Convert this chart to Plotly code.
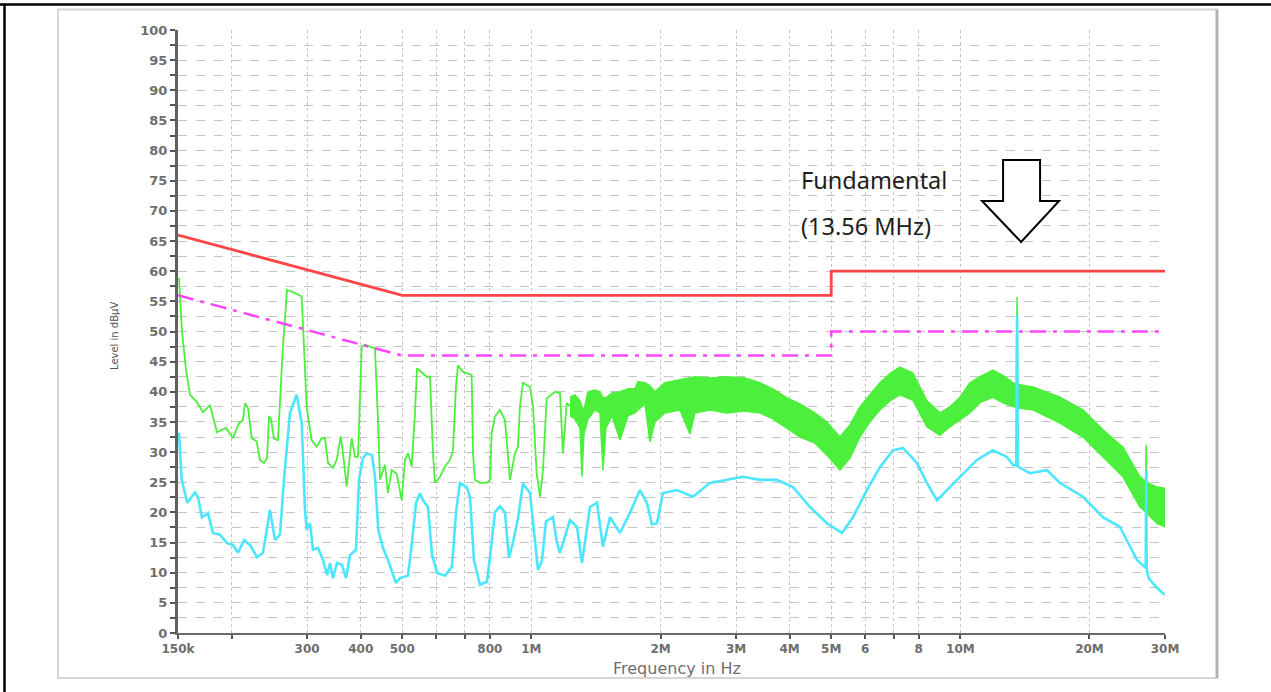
import numpy as np
import plotly.graph_objects as go

# ---------------- data (frequency in kHz, level in dBuV) ----------------
GREEN_F_KHZ = [150.8, 153.2, 156.6, 160.0, 166.1, 171.5, 178.1, 184.9, 194.1, 201.5,
               208.1, 212.6, 214.9, 218.4, 222.8, 228.8, 232.9, 238.0, 241.9, 244.5,
               247.1, 251.1, 256.6, 263.1, 269.3, 276.6, 291.4, 296.6, 299.3, 307.4,
               315.8, 324.4, 330.2, 335.6, 344.7, 351.6, 359.2, 363.7, 371.0, 381.1,
               387.9, 394.2, 402.1, 409.3, 431.8, 438.9, 443.6, 455.6, 463.0, 472.3,
               485.2, 498.4, 507.3, 515.5, 525.9, 535.3, 541.1, 570.0, 580.2, 589.6,
               595.9, 612.1, 628.8, 645.9, 656.4, 667.0, 674.2, 692.6, 725.7, 730.8,
               738.6, 758.7, 786.5, 800.6, 807.9, 822.3, 844.7, 867.7, 881.8, 891.3,
               915.5, 930.4, 940.4, 955.7, 992.3, 1008.4, 1028.6, 1047.0, 1064.0, 1085.4,
               1134.8, 1165.7, 1184.6, 1208.4, 1230.0]
GREEN_DB = [58.9, 50.2, 43.6, 39.5, 38.3, 36.6, 37.8, 33.3, 34.0, 32.3,
            34.8, 35.3, 38.1, 37.3, 32.3, 31.8, 28.7, 28.2, 29.0, 36.0,
            35.5, 32.2, 32.0, 46.9, 56.9, 56.6, 55.8, 43.6, 37.4, 32.0,
            30.9, 32.3, 32.3, 28.2, 27.4, 28.7, 32.6, 29.8, 24.3, 32.3,
            29.2, 29.2, 47.5, 47.8, 47.2, 35.3, 25.4, 27.9, 23.2, 27.0,
            26.4, 22.0, 28.7, 29.8, 27.6, 36.5, 43.9, 42.5, 42.5, 29.8,
            24.9, 25.9, 27.6, 28.7, 30.3, 40.9, 44.4, 43.3, 42.8, 29.8,
            25.4, 24.9, 24.9, 25.4, 33.2, 35.9, 37.0, 35.3, 29.8, 25.4,
            29.8, 30.9, 37.6, 41.5, 40.8, 37.6, 26.5, 22.6, 27.0, 38.9,
            40.0, 39.8, 29.8, 38.1, 37.6]

# dense (noisy) part of the green trace: upper / lower envelope
BAND_F_KHZ = [1230.0, 1263.4, 1297.8, 1311.8, 1326.0, 1354.7, 1406.6, 1444.9, 1468.3, 1492.2,
              1541.0, 1608.6, 1679.2, 1743.5, 1771.8, 1839.6, 1889.7, 1941.1, 2048.1, 2219.9,
              2342.2, 2405.9, 2607.6, 2856.8, 3146.6, 3410.4, 3656.9, 3942.2, 4227.1, 4581.4,
              4886.3, 5239.5, 5528.4, 5833.2, 6155.0, 6494.4, 6852.5, 7230.3, 7752.9, 8358.0,
              8961.8, 9456.0, 9977.4, 10527, 11108, 11911, 12703, 13260, 13500, 13560,
              13620, 14763, 17069, 19311, 21500, 23934, 26222, 27050, 27120, 27190,
              28727, 30000]
BAND_HI = [39.1, 39.5, 38.5, 37.5, 37.0, 40.0, 40.3, 40.0, 39.0, 39.0,
           39.8, 40.0, 40.5, 40.5, 41.7, 41.5, 41.0, 40.0, 41.5, 42.0,
           42.3, 42.5, 42.3, 42.5, 42.3, 41.5, 40.5, 39.0, 38.0, 36.5,
           35.0, 32.5, 34.5, 37.5, 39.5, 41.5, 43.0, 44.1, 43.1, 38.5,
           36.5, 37.5, 39.1, 41.5, 42.5, 43.6, 42.5, 41.5, 41.3, 55.7,
           41.2, 40.8, 39.1, 37.0, 33.7, 30.8, 25.9, 25.2, 31.2, 25.0,
           24.2, 24.0]
BAND_LO = [36.0, 35.5, 34.0, 25.9, 33.0, 35.5, 37.0, 36.5, 27.0, 34.0,
           36.0, 32.0, 36.0, 36.5, 37.0, 38.0, 31.7, 35.0, 36.5, 37.0,
           33.0, 36.5, 37.0, 36.5, 36.8, 36.5, 35.5, 34.0, 32.5, 31.5,
           29.5, 27.0, 29.0, 32.5, 35.0, 37.0, 38.5, 39.5, 38.6, 34.2,
           32.8, 34.2, 35.3, 36.5, 38.2, 39.1, 38.0, 37.5, 37.4, 37.3,
           37.3, 37.0, 34.8, 32.5, 29.2, 25.9, 20.9, 20.2, 20.0, 19.9,
           18.2, 17.6]

CYAN_F_KHZ = [150.8, 153.0, 157.7, 164.3, 167.0, 170.6, 176.2, 181.0, 187.9, 195.1,
              201.5, 207.0, 213.8, 220.8, 229.2, 236.7, 245.8, 252.5, 259.3, 265.0,
              273.6, 283.7, 291.4, 296.6, 299.3, 304.6, 309.6, 318.0, 326.7, 333.8,
              339.2, 344.7, 352.2, 361.7, 369.6, 377.6, 390.0, 396.3, 404.9, 413.0,
              424.9, 431.8, 439.6, 450.8, 463.0, 475.6, 483.4, 493.8, 515.5, 526.7,
              538.2, 549.8, 558.8, 573.9, 586.4, 602.4, 628.8, 652.9, 667.0, 681.5,
              706.5, 719.1, 734.7, 758.7, 787.8, 804.9, 822.3, 844.7, 867.7, 886.5,
              905.8, 930.4, 955.7, 992.3, 1013.8, 1035.8, 1058.3, 1081.3, 1122.7, 1147.1,
              1165.7, 1230.0, 1277.1, 1311.8, 1369.4, 1421.9, 1468.3, 1524.5, 1608.6, 1697.3,
              1790.9, 1859.5, 1910.1, 1962.1, 2026.3, 2184.4, 2380.2, 2607.6, 2856.8, 3113.0,
              3410.4, 3736.2, 4071.3, 4460.3, 4886.3, 5296.1, 5618.1, 6056.1, 6494.4, 6963.8,
              7347.6, 7921.1, 8358.0, 8818.7, 9305.0, 9977.4, 10930, 11911, 12840, 13260,
              13500, 13560, 13620, 14529, 15917, 17069, 19311, 21500, 23552, 25803,
              27050, 27120, 27190, 27519, 28727, 30000]
CYAN_DB = [33.2, 25.4, 21.6, 23.3, 22.5, 19.2, 19.9, 16.6, 16.3, 14.9,
           14.6, 13.3, 15.4, 14.6, 12.6, 13.3, 20.4, 15.4, 16.3, 25.4,
           36.5, 39.5, 34.8, 20.4, 17.1, 18.2, 13.8, 14.1, 12.1, 9.6,
           11.6, 9.1, 11.6, 11.3, 9.1, 12.9, 13.8, 25.4, 29.0, 29.8,
           29.5, 26.0, 17.1, 14.1, 12.1, 9.6, 8.3, 9.1, 9.5, 15.0,
           21.5, 23.2, 22.0, 20.9, 13.0, 10.0, 9.5, 11.0, 20.0, 24.9,
           24.2, 22.6, 12.0, 8.0, 8.5, 14.0, 20.0, 21.0, 20.0, 12.5,
           15.0, 19.0, 24.8, 23.2, 17.0, 10.5, 12.0, 18.5, 19.2, 15.0,
           13.3, 18.7, 17.6, 11.6, 20.9, 21.6, 14.3, 19.2, 16.6, 19.9,
           23.7, 21.6, 18.0, 18.2, 23.2, 23.7, 22.6, 24.9, 25.4, 25.9,
           25.4, 25.4, 24.2, 20.9, 18.2, 16.6, 19.2, 23.7, 27.5, 30.3,
           30.7, 28.2, 24.9, 22.0, 23.7, 25.9, 28.7, 30.3, 29.2, 27.9,
           27.8, 52.7, 27.6, 26.5, 27.0, 24.9, 22.6, 19.2, 17.6, 12.1,
           10.8, 27.0, 10.5, 9.0, 7.5, 6.3]

# limit lines
LIMIT_F_HZ = [150e3, 500e3, 5e6, 5e6, 30e6]
QP_LIMIT_DB = [66, 56, 56, 60, 60]
AV_LIMIT_DB = [56, 46, 46, 50, 50]

# axis ticks
X_TICK_HZ = [150e3, 200e3, 300e3, 400e3, 500e3, 600e3, 700e3, 800e3, 1e6,
             2e6, 3e6, 4e6, 5e6, 6e6, 7e6, 8e6, 10e6, 20e6, 30e6]
X_TICK_TEXT = ["150k", "", "300", "400", "500", "", "", "800", "1M",
               "2M", "3M", "4M", "5M", "6", "", "8", "10M", "20M", "30M"]
FUNDAMENTAL_HZ = 13.56e6

# ---------------- styling ----------------
GREEN = "#4cf03c"
CYAN = "#4ce6ff"
RED = "#ff4646"
MAGENTA = "#ff46ff"
GRID = "#c4c4c4"

W, H = 1271, 692
ML, MR, MT, MB = 178, 106, 30, 59
PW, PH = W - ML - MR, H - MT - MB
X0, X1 = np.log10(150e3), np.log10(30e6)


def px(x):
    return (x - ML) / PW


def py(y):
    return (H - MB - y) / PH


def khz(a):
    return [v * 1e3 for v in a]


fig = go.Figure()

fig.add_trace(go.Scatter(x=khz(BAND_F_KHZ), y=BAND_LO, mode="lines",
                         line=dict(color=GREEN, width=1.5), hoverinfo="skip"))
fig.add_trace(go.Scatter(x=khz(BAND_F_KHZ), y=BAND_HI, mode="lines",
                         line=dict(color=GREEN, width=1.5), fill="tonexty",
                         fillcolor=GREEN, hoverinfo="skip"))
fig.add_trace(go.Scatter(x=khz(GREEN_F_KHZ), y=GREEN_DB, mode="lines",
                         line=dict(color=GREEN, width=1.8)))
fig.add_trace(go.Scatter(x=khz(CYAN_F_KHZ), y=CYAN_DB, mode="lines",
                         line=dict(color=CYAN, width=2.6)))
fig.add_trace(go.Scatter(x=LIMIT_F_HZ, y=AV_LIMIT_DB, mode="lines",
                         line=dict(color=MAGENTA, width=2.5, dash="16px,7px,4px,7px")))
fig.add_trace(go.Scatter(x=LIMIT_F_HZ, y=QP_LIMIT_DB, mode="lines",
                         line=dict(color=RED, width=2.8)))

tick_font = dict(family="DejaVu Sans", size=12, color="#6e6e6e", weight="bold")

fig.update_xaxes(type="log", range=[X0, X1], tickmode="array",
                 tickvals=X_TICK_HZ, ticktext=X_TICK_TEXT,
                 showgrid=True, gridcolor=GRID, griddash="dot", gridwidth=1,
                 showline=True, linecolor="#6a6a6a", linewidth=2,
                 ticks="outside", ticklen=4, tickwidth=2, tickcolor="#555555",
                 tickfont=tick_font, zeroline=False)
fig.update_yaxes(range=[0, 100], tick0=0, dtick=5,
                 showgrid=True, gridcolor=GRID, griddash="dash", gridwidth=1,
                 showline=True, linecolor="#606060", linewidth=3,
                 ticks="outside", ticklen=5, tickwidth=2, tickcolor="#555555",
                 tickfont=dict(family="DejaVu Sans", size=13, color="#6e6e6e", weight="bold"),
                 zeroline=False,
                 minor=dict(dtick=2.5, tick0=0, ticks="outside", ticklen=5,
                            tickwidth=2, tickcolor="#555555", showgrid=True,
                            gridcolor=GRID, griddash="dash"))

# arrow pointing at the fundamental
fx = ML + (np.log10(FUNDAMENTAL_HZ) - X0) / (X1 - X0) * PW + 4
arrow_pts = [(fx - 18, 160), (fx + 19, 160), (fx + 19, 201), (fx + 38, 201),
             (fx, 242), (fx - 39, 201), (fx - 18, 201)]
path = "M " + " L ".join(f"{px(a):.5f},{py(b):.5f}" for a, b in arrow_pts) + " Z"

shapes = [
    # outer document frame
    dict(type="line", xref="paper", yref="paper", x0=px(0), x1=px(W), y0=py(4.5), y1=py(4.5),
         line=dict(color="black", width=2.5)),
    dict(type="line", xref="paper", yref="paper", x0=px(4.5), x1=px(4.5), y0=py(4), y1=py(H),
         line=dict(color="black", width=2.5)),
    # grey chart panel
    dict(type="rect", xref="paper", yref="paper", x0=px(58), x1=px(1217), y0=py(678), y1=py(9.5),
         line=dict(color="#d6d6d6", width=2), layer="below"),
    dict(type="line", xref="paper", yref="paper", x0=px(1217), x1=px(1217), y0=py(678), y1=py(9.5),
         line=dict(color="#b4b4b4", width=3)),
    dict(type="path", xref="paper", yref="paper", path=path,
         line=dict(color="black", width=2), fillcolor="white"),
]

annotations = [
    dict(text="Fundamental", xref="paper", yref="paper", x=px(799), y=py(180),
         xanchor="left", yanchor="middle", showarrow=False,
         font=dict(family="Noto Sans", size=23.5, color="#1e1e1e")),
    dict(text="(13.56 MHz)", xref="paper", yref="paper", x=px(799), y=py(226),
         xanchor="left", yanchor="middle", showarrow=False,
         font=dict(family="Noto Sans", size=23.5, color="#1e1e1e")),
    dict(text="Frequency in Hz", xref="paper", yref="paper", x=px(677), y=py(668),
         xanchor="center", yanchor="middle", showarrow=False,
         font=dict(family="DejaVu Sans", size=16, color="#6e6e6e")),
    dict(text="Level in dBµV", xref="paper", yref="paper", x=px(114), y=py(336),
         xanchor="center", yanchor="middle", showarrow=False, textangle=-90,
         font=dict(family="DejaVu Sans", size=10, color="#555555")),
]

fig.update_layout(width=W, height=H, autosize=False,
                  margin=dict(l=ML, r=MR, t=MT, b=MB),
                  paper_bgcolor="white", plot_bgcolor="white",
                  showlegend=False, shapes=shapes, annotations=annotations)

fig.write_html("out.html", config={"displayModeBar": False},
               post_script="document.body.style.margin='0';document.body.style.overflow='hidden';")
